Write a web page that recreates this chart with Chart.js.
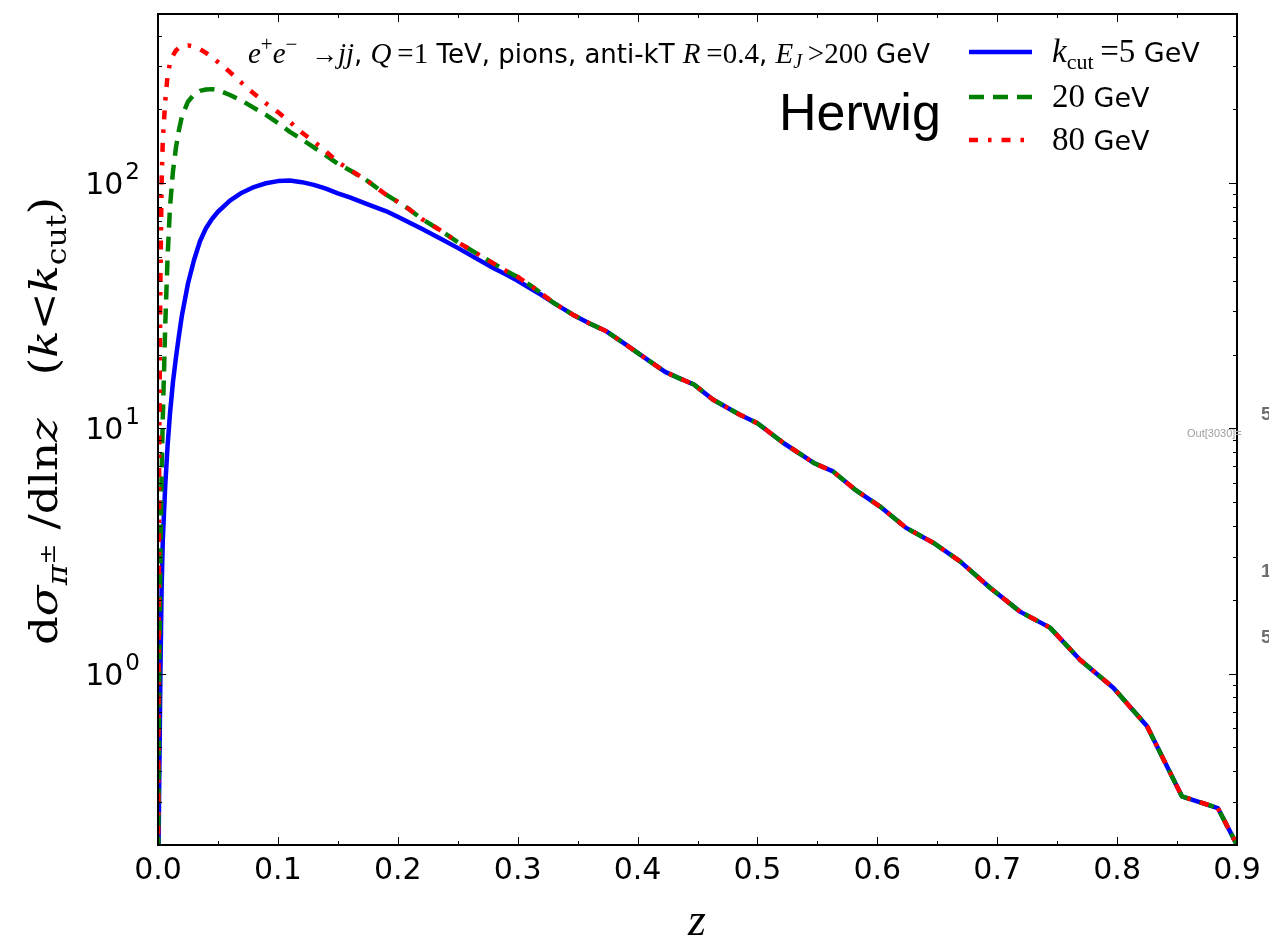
<!DOCTYPE html>
<html>
<head>
<meta charset="utf-8">
<script src="https://cdn.jsdelivr.net/npm/chart.js@4.4.1/dist/chart.umd.min.js"></script>
<style>
  html, body { margin: 0; padding: 0; background: #fff; }
  #wrap { width: 1269px; height: 943px; position: relative; }
</style>
</head>
<body>
<div id="wrap"><canvas id="chart"></canvas></div>
<script>
// z values where the three k_cut curves differ
const zHead = [0, 0.001, 0.002, 0.003, 0.004, 0.006, 0.008, 0.010, 0.0125, 0.015, 0.0175, 0.02,
  0.025, 0.03, 0.035, 0.04, 0.045, 0.05, 0.06, 0.07, 0.08, 0.09, 0.10, 0.11, 0.12, 0.13, 0.14,
  0.15, 0.16, 0.175, 0.19, 0.20, 0.21, 0.22, 0.235, 0.25, 0.265, 0.28, 0.29, 0.30, 0.31, 0.32];

const blueHead = [0.12, 0.35, 1.0, 2.2, 3.5, 5.8, 8.5, 11.5, 15.5, 19.5, 24, 29,
  39, 48.5, 58, 65.5, 71.5, 76.5, 85, 91.5, 96.5, 100, 102, 102.5, 101, 98.5, 95,
  91, 87.5, 82, 77, 73, 69, 65.2, 59.7, 54.5, 49.5, 45, 42.5, 40, 37.4, 35];

const greenHead = [0.12, 1.0, 3.0, 6.5, 11, 26, 50, 80, 112, 140, 165, 188,
  215, 230, 238, 241, 242, 240, 229, 217, 203, 190, 176, 162, 151, 140, 130,
  120, 113, 102, 90, 84, 78, 71.5, 64.5, 57.5, 52, 47, 44, 41.5, 38.5, 35.5];

const redHead = [0.12, 8, 40, 100, 150, 215, 275, 310, 332, 348, 357, 362,
  365, 361, 352, 340, 327, 312, 284, 256, 232, 212, 195, 178, 161, 148, 135,
  122, 113.5, 102, 90, 84, 78, 71.5, 64.5, 57.5, 52, 47, 44, 41.5, 38.5, 35.5];

// above z ~ 0.33 all three curves coincide
const zTail = [0.33, 0.346, 0.36, 0.374, 0.39, 0.41, 0.423, 0.435, 0.447, 0.463, 0.485, 0.50,
  0.522, 0.547, 0.563, 0.582, 0.602, 0.624, 0.647, 0.669, 0.694, 0.719, 0.744, 0.769,
  0.797, 0.825, 0.854, 0.884, 0.90];
const tailValues = [32.5, 29.1, 26.8, 24.9, 22.0, 18.8, 17.0, 16.0, 15.1, 13.1, 11.4, 10.5,
  8.7, 7.23, 6.68, 5.6, 4.81, 3.93, 3.41, 2.87, 2.24, 1.79, 1.54, 1.14,
  0.874, 0.61, 0.316, 0.283, 0.2];

const kcutLabels = ['5', '20', '80'];
const xTicks = [0, 0.1, 0.2, 0.3, 0.4, 0.5, 0.6, 0.7, 0.8, 0.9];
const yTicks = [1, 10, 100];

const SERIF = '"Liberation Serif", "DejaVu Serif", serif';
const WIDE_SERIF = '"DejaVu Serif", serif';
const SANS = '"DejaVu Sans", sans-serif';
const m = size => `${size}px ${SERIF}`;
const mi = size => `italic ${size}px ${SERIF}`;
const sf = size => `${size}px ${SANS}`;
const w = size => `${size}px ${WIDE_SERIF}`;
const wi = size => `italic ${size}px ${WIDE_SERIF}`;

const zAll = zHead.concat(zTail);
const toPoints = head => head.concat(tailValues).map((v, i) => ({ x: zAll[i], y: v }));

const xMinor = [];
for (let i = 0; i < 9; i++) xMinor.push(i * 0.1 + 0.05);
const yMinor = [];
[0.1, 1, 10, 100].forEach(d => {
  for (let k = 2; k <= 9; k++) if (d * k >= 0.2 && d * k <= 490) yMinor.push(d * k);
});

function richText(ctx, parts, x, y) {
  let cx = x;
  for (const [text, font, dy = 0] of parts) {
    ctx.font = font;
    ctx.fillText(text, cx, y + dy);
    cx += ctx.measureText(text).width;
  }
  return cx;
}

function richWidth(ctx, parts) {
  let total = 0;
  for (const [text, font] of parts) {
    ctx.font = font;
    total += ctx.measureText(text).width;
  }
  return total;
}

// inward ticks on all four sides, the box, and the 10^n labels
const axisFrame = {
  id: 'axisFrame',
  afterDatasetsDraw(chart) {
    const { ctx, chartArea: a, scales: { x, y } } = chart;
    ctx.save();
    ctx.strokeStyle = '#000';
    ctx.lineWidth = 1;
    ctx.beginPath();
    const tickX = (v, len) => {
      const px = Math.round(x.getPixelForValue(v)) + 0.5;
      ctx.moveTo(px, a.bottom); ctx.lineTo(px, a.bottom - len);
      ctx.moveTo(px, a.top); ctx.lineTo(px, a.top + len);
    };
    const tickY = (v, len) => {
      const py = Math.round(y.getPixelForValue(v)) + 0.5;
      ctx.moveTo(a.left, py); ctx.lineTo(a.left + len, py);
      ctx.moveTo(a.right, py); ctx.lineTo(a.right - len, py);
    };
    xTicks.forEach(v => tickX(v, 8));
    xMinor.forEach(v => tickX(v, 4));
    yTicks.forEach(v => tickY(v, 8));
    yMinor.forEach(v => tickY(v, 4));
    ctx.stroke();
    ctx.lineWidth = 2;
    ctx.strokeRect(a.left, a.top, a.right - a.left, a.bottom - a.top);

    ctx.fillStyle = '#000';
    ctx.textBaseline = 'alphabetic';
    ctx.textAlign = 'left';
    yTicks.forEach(v => {
      const py = y.getPixelForValue(v);
      const exp = String(Math.round(Math.log10(v)));
      ctx.font = sf(23);
      const supW = ctx.measureText(exp).width;
      ctx.font = sf(30);
      const baseW = ctx.measureText('10').width;
      const right = a.left - 18;
      ctx.fillText('10', right - supW - baseW - 2, py + 11);
      ctx.font = sf(23);
      ctx.fillText(exp, right - supW, py - 4);
    });
    ctx.restore();
  }
};

const annotations = {
  id: 'annotations',
  afterDraw(chart) {
    const ctx = chart.ctx;
    ctx.save();
    ctx.fillStyle = '#000';
    ctx.textBaseline = 'alphabetic';
    ctx.textAlign = 'left';

    // process line
    richText(ctx, [
      ['e', mi(29)], ['+', m(21), -12], ['e', mi(29)], ['\u2212', m(21), -12],
      ['  \u2192', m(27)], ['jj', mi(29)], [', ', sf(26)],
      ['Q', mi(29)], ['\u2009=1', m(29)], [' TeV, pions, anti-kT ', sf(26)],
      ['R', mi(29)], ['\u2009=0.4', m(29)], [', ', sf(26)],
      ['E', mi(29)], ['J', mi(20), 5], ['\u2009>200', m(29)], [' GeV', sf(26)]
    ], 248, 63);

    ctx.font = '52px "Liberation Sans", Arial, sans-serif';
    ctx.fillText('Herwig', 779, 130);

    // legend
    const rows = [52, 97, 140];
    chart.data.datasets.forEach((ds, i) => {
      ctx.save();
      ctx.strokeStyle = ds.borderColor;
      ctx.lineWidth = ds.borderWidth;
      ctx.setLineDash(ds.borderDash || []);
      ctx.beginPath();
      ctx.moveTo(969, rows[i]);
      ctx.lineTo(1032, rows[i]);
      ctx.stroke();
      ctx.restore();
      const base = rows[i] + 10;
      if (i === 0) {
        richText(ctx, [['k', mi(33)], ['cut', m(22), 7], ['\u2009=' + kcutLabels[i], m(33)], [' GeV', sf(27)]], 1052, base);
      } else {
        richText(ctx, [[kcutLabels[i], m(33)], [' GeV', sf(27)]], 1052, base);
      }
    });

    // axis titles
    ctx.font = mi(46);
    ctx.textAlign = 'center';
    ctx.fillText('z', 697, 935);
    ctx.textAlign = 'left';

    const yTitle = [
      ['d', w(40)], ['\u03c3', wi(40)], ['\u03c0', wi(28), 10], ['\u00b1', w(22), -2],
      [' /dln', w(40)], ['z', wi(40)], ['   (', w(40)], ['k', wi(40)], ['<', w(40)],
      ['k', wi(40)], ['cut', w(28), 9], [')', w(40)]
    ];
    const tw = richWidth(ctx, yTitle);
    ctx.save();
    ctx.translate(57, 421);
    ctx.rotate(-Math.PI / 2);
    ctx.scale(448 / tw, 1);
    richText(ctx, yTitle, -tw / 2, 0);
    ctx.restore();

    // notebook output text at the right edge
    ctx.fillStyle = '#a0a0a0';
    ctx.font = '11px "Liberation Sans", Arial, sans-serif';
    ctx.fillText('Out[3030]=', 1187, 437);
    ctx.fillStyle = '#6e6e6e';
    ctx.font = 'bold 19px "Liberation Sans", Arial, sans-serif';
    ctx.fillText('5', 1261, 420);
    ctx.fillText('1', 1261, 577);
    ctx.fillText('5', 1261, 643);
    ctx.restore();
  }
};

new Chart(document.getElementById('chart'), {
  type: 'line',
  data: {
    datasets: [
      { label: 'kcut=5 GeV', data: toPoints(blueHead), borderColor: '#0000ff', borderWidth: 4.5, order: 2 },
      { label: '20 GeV', data: toPoints(greenHead), borderColor: '#008000', borderWidth: 4.5, borderDash: [15, 9], order: 1 },
      { label: '80 GeV', data: toPoints(redHead), borderColor: '#ff0000', borderWidth: 4.5, borderDash: [9, 10, 3.5, 10], order: 0 }
    ].map(ds => Object.assign(ds, { pointRadius: 0, tension: 0, fill: false, borderCapStyle: 'butt', borderJoinStyle: 'round' }))
  },
  options: {
    animation: false,
    responsive: true,
    maintainAspectRatio: false,
    layout: { padding: { top: 14, right: 32, left: 0, bottom: 0 } },
    plugins: { legend: { display: false }, tooltip: { enabled: false } },
    scales: {
      x: {
        type: 'linear', min: 0, max: 0.9,
        grid: { display: false, drawTicks: false },
        border: { display: false },
        afterBuildTicks: s => { s.ticks = xTicks.map(v => ({ value: v })); },
        afterFit: s => { s.height = 98; },
        ticks: {
          autoSkip: false, maxRotation: 0, padding: 8, color: '#000',
          font: { family: 'DejaVu Sans', size: 30 },
          callback: v => v.toFixed(1)
        }
      },
      y: {
        type: 'logarithmic', min: 0.2, max: 490,
        grid: { display: false, drawTicks: false },
        border: { display: false },
        afterBuildTicks: s => { s.ticks = yTicks.map(v => ({ value: v })); },
        afterFit: s => { s.width = 158; },
        ticks: { display: false }
      }
    }
  },
  plugins: [axisFrame, annotations]
});
</script>
</body>
</html>
